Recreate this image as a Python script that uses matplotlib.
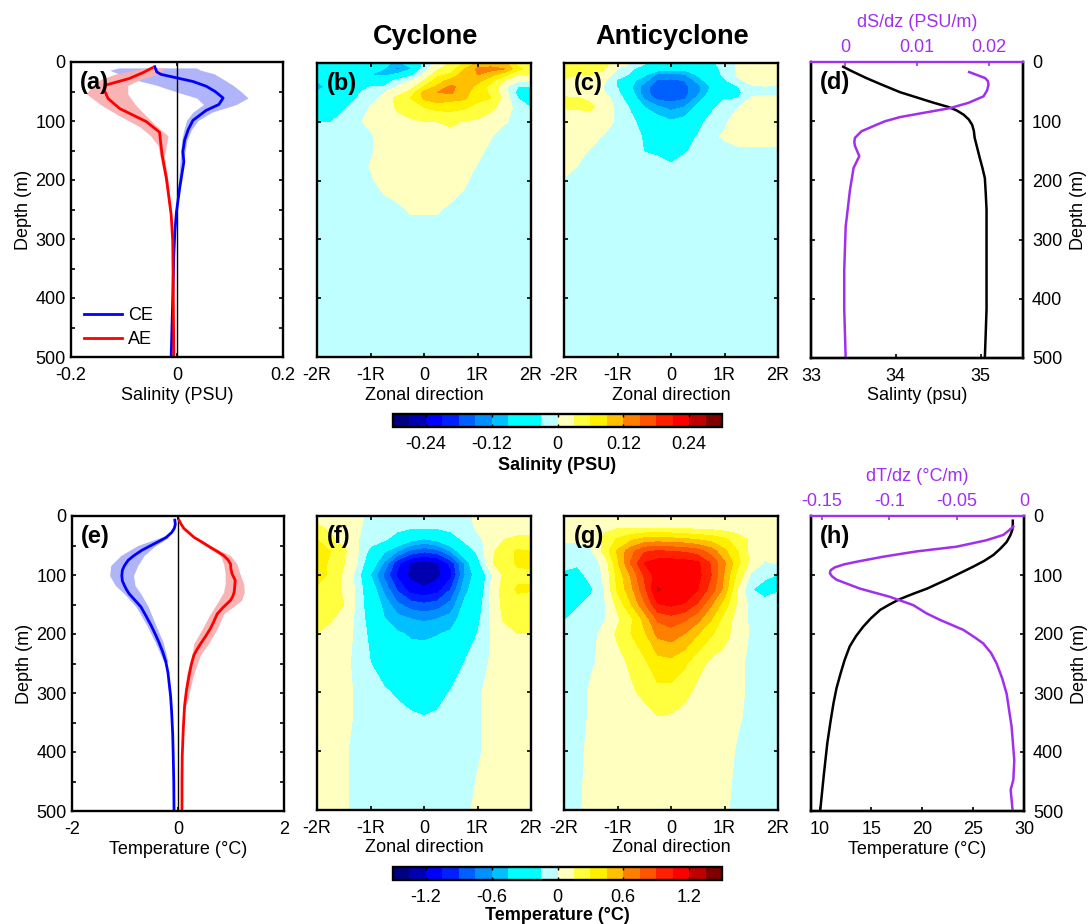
import numpy as np
import matplotlib
matplotlib.use('Agg')
import matplotlib.pyplot as plt
from matplotlib.colors import ListedColormap, BoundaryNorm

plt.rcParams['font.family'] = ['Liberation Sans', 'DejaVu Sans']
plt.rcParams['font.size'] = 13

# ---------- profile data ----------
a_ce_d = [8,17,21,27,33,41,50,61,72,82,99,115,132,152,169,214,254,287,327,400,500]
a_ce_v = [-.042,-.038,-.03,0,.03,.055,.072,.087,.079,.055,.03,.021,.0145,.011,.013,.005,-.001,-.004,-.006,-.008,-.011]
a_ae_d = [10,18,28,39,48,62,79,90,101,119,135,158,197,259,304,400,500]
a_ae_v = [-.047,-.064,-.09,-.134,-.137,-.13,-.108,-.083,-.058,-.033,-.031,-.028,-.02,-.011,-.008,-.007,-.006]
a_ce_sd = [10,14,20,28,39,51,61,72,85,99,115,132,152,200,250]
a_ce_lo = [-.11,-.127,-.11,-.09,-.04,0,.037,.05,.03,.018,.013,.009,.007,.003,-.002]
a_ce_hi = [.036,.045,.07,.085,.105,.122,.134,.112,.066,.04,.027,.019,.015,.007,0]
a_ae_sd = [10,20,30,40,54,73,90,110,125,141,160,200,260]
a_ae_lo = [-.06,-.115,-.145,-.16,-.171,-.143,-.111,-.07,-.05,-.036,-.032,-.023,-.013]
a_ae_hi = [-.023,-.033,-.07,-.093,-.093,-.078,-.06,-.037,-.017,-.02,-.024,-.017,-.01]

e_ce_d = [7,14,21,28,36,43,50,58,67,75,84,92,101,110,118,125,132,143,154,170,185,200,214,230,247,265,281,305,332,370,406,450,500]
e_ce_v = [-.06,-.05,-.07,-.12,-.22,-.36,-.51,-.68,-.83,-.94,-1.01,-1.05,-1.06,-1.05,-1.01,-.97,-.92,-.81,-.7,-.6,-.51,-.43,-.36,-.29,-.23,-.19,-.17,-.14,-.12,-.1,-.09,-.08,-.075]
e_ae_d = [7,14,21,28,36,44,53,60,67,74,81,90,98,109,120,129,137,143,155,166,180,191,204,216,226,236,252,270,295,321,360,406,450,500]
e_ae_v = [.02,.06,.11,.2,.3,.45,.61,.74,.86,.94,.99,1.0,1.02,1.08,1.07,1.06,1.03,.99,.85,.74,.67,.61,.52,.43,.36,.3,.25,.21,.16,.125,.1,.08,.075,.075]
e_ce_sd = [36,50,67,84,101,118,132,154,185,214,247]
e_ce_lo = [-.32,-.76,-1.08,-1.27,-1.29,-1.18,-1.01,-.79,-.59,-.43,-.27]
e_ce_hi = [-.17,-.42,-.64,-.76,-.84,-.81,-.7,-.56,-.42,-.28,-.19]
e_ae_sd = [36,53,67,81,98,115,129,143,166,191,216,236,270,320]
e_ae_lo = [.27,.55,.8,.86,.89,.89,.86,.77,.61,.46,.3,.26,.16,.11]
e_ae_hi = [.33,.66,.99,1.11,1.17,1.24,1.25,1.2,.86,.74,.58,.42,.29,.16]

d_s_d = [8,14,27,38,51,60,69,76,82,89,97,106,116,128,145,162,178,196,220,249,306,360,418,460,500]
d_s_v = [33.38,33.46,33.65,33.83,34.05,34.25,34.45,34.62,34.72,34.8,34.86,34.9,34.92,34.93,34.96,34.99,35.02,35.05,35.06,35.07,35.07,35.07,35.07,35.06,35.05]
d_g_d = [17,27,32,38,48,58,69,78,86,93,100,106,117,128,135,142,159,179,216,278,351,418,500]
d_g_v = [.0173,.0195,.0199,.02,.0198,.0193,.0172,.0146,.0109,.0077,.0056,.0044,.0023,.0014,.0013,.0014,.002,.0012,.0007,.0001,-.0001,-.0001,.0001]

h_t_d = [8,15,24,33,44,55,66,76,86,97,108,115,123,132,141,150,159,173,188,204,221,244,267,292,318,350,385,440,500]
h_t_v = [28.9,28.9,28.85,28.65,28.3,27.7,27,26.1,25,23.7,22.4,21.5,20.5,19.1,17.8,16.8,15.9,15,14.2,13.5,12.9,12.4,12,11.6,11.3,11,10.7,10.35,10]
h_g_d = [18,25,32,41,52,60,69,77,82,87,92,97,102,108,123,137,151,165,176,193,205,216,232,250,275,301,357,414,447,464,500]
h_g_v = [-.0079,-.0115,-.0153,-.0277,-.05,-.0797,-.1045,-.123,-.1335,-.1403,-.1435,-.144,-.1425,-.1391,-.1218,-.0995,-.0822,-.0723,-.0624,-.045,-.037,-.0302,-.0245,-.0203,-.0162,-.0129,-.0092,-.0072,-.0079,-.0099,-.0084]

# ---------- section data ----------
zonal = [-2,-1.75,-1.5,-1.25,-1,-.75,-.5,-.25,0,.25,.5,.75,1,1.25,1.5,1.75,2]

# salinity anomaly, 0.01 PSU; one row per column of zonal position
S_depth = [0,10,20,30,40,50,60,75,100,125,150,175,200,240,270,500]
S_cyc = np.array([
 [-6,-7,-8,-9,-10,-9,-7,-5,-3,-1,-1,-1,-1,-1,-1,-1],
 [-6,-7,-7,-8,-8,-7,-6,-5,-3.2,-1,-1,-1,-1,-1,-1,-1],
 [-6,-6,-6,-6,-6,-5.5,-5,-3.5,-1.5,-1,-1,-1,-1,-1,-1,-1],
 [-6,-6,-6,-6,-4,-3.5,-3,-1.5,-.3,-.6,-.6,-.6,-1,-1,-1,-1],
 [-7,-8,-9,-6,-3,-1.5,-.8,.2,.5,-.3,-.3,.1,-.3,-1,-1,-1],
 [-8,-9,-10,-5,-3,0,.5,1,1,1,1,1,.7,-.5,-1,-1],
 [-10,-13,-8,-2,.2,1,4,3.5,2,1.5,1.5,1.5,1.2,-.1,-.5,-1],
 [-7,-9.5,-4,0,1.5,4,6,5.5,2.2,2,2,2,1.5,.4,-.3,-1],
 [-2,-1,.5,3,6,10,9.5,6,3,2,2,2,1.5,.4,-.3,-1],
 [1,2.5,5,7.5,9.5,12,11,7,3,2,2,2,1.5,.4,-.3,-1],
 [3.5,4.5,6.5,10,12.5,12.5,10,7,3.5,2,2,1.5,1.2,-.1,-.5,-1],
 [6,9,10.5,11,11,10,9.5,6.5,2.8,2,1.5,.8,.3,-.5,-1,-1],
 [9,12.5,12,10,8,7.5,7,5,2.5,1.5,.5,-.1,-.6,-1,-1,-1],
 [10,13,10,7,5,5.5,6,4,1,.1,-.5,-.7,-1,-1,-1,-1],
 [10,12,7,3,1,1.5,2,1.5,.2,-1,-1,-1,-1,-1,-1,-1],
 [5,7,3,.5,-3,-4,-3,-1,-.5,-1,-1,-1,-1,-1,-1,-1],
 [4,4,3,0,-3,-5,-5,-3.2,-1,-1,-1,-1,-1,-1,-1,-1]]).T
S_anti = np.array([
 [5,5,4,2.5,1.5,1.5,3.5,3.2,1.5,1,.7,.5,-.1,-1,-1,-1],
 [5,5,3,2,1.5,1.5,3.2,3.3,1.5,1,.5,0,-.5,-1,-1,-1],
 [5,4,3,2,1.5,2,2.5,3.5,1.5,.7,-.2,-.7,-1,-1,-1,-1],
 [4,3.2,2,.5,-.2,.1,1,1.5,1,-.2,-.6,-1,-1,-1,-1,-1],
 [1.5,0,-1.5,-3.5,-3.2,-2.2,-1,-.7,-.4,-1,-1,-1,-1,-1,-1,-1],
 [0,-2.5,-3.5,-8,-8.5,-7.5,-6,-3.5,-2.2,-1.5,-1,-1,-1,-1,-1,-1],
 [-2.5,-5,-8.5,-11,-13.5,-14,-12.5,-9,-4.5,-3.4,-3.1,-1.5,-1,-1,-1,-1],
 [-4,-7,-13,-15.5,-17,-17,-16,-11.5,-7,-4.5,-3.6,-1.8,-1,-1,-1,-1],
 [-4,-8,-13,-15.8,-17.5,-17.5,-16.5,-13,-8.5,-5,-4,-2.8,-1.5,-1,-1,-1],
 [-4,-8,-12.5,-15,-16,-16,-15.5,-12,-7.5,-4.5,-3.3,-1.8,-1,-1,-1,-1],
 [-4,-6,-8.5,-11,-13,-13,-11,-8,-4.5,-2.8,-2.2,-1.2,-1,-1,-1,-1],
 [-3.5,-4.5,-5,-6.5,-8.5,-8,-6,-4,-1.5,-.3,-.8,-1,-1,-1,-1,-1],
 [-2,-2,-2.3,-3.5,-4.5,-4,-3.2,-1.5,-.3,.2,-.5,-1,-1,-1,-1,-1],
 [.2,.5,.4,-.6,-3.1,-3.8,-3.2,-.1,1,1,-.5,-1,-1,-1,-1,-1],
 [1,1.5,1.5,.8,-.3,-.8,.3,1.2,1.5,1.2,-.5,-1,-1,-1,-1,-1],
 [1.5,1.5,1.5,1.2,-.1,-.5,.6,1.5,1.5,1.2,-.5,-1,-1,-1,-1,-1],
 [1.5,1.5,1.5,1.2,-.2,-.5,.5,1.5,1.5,1,-.5,-1,-1,-1,-1,-1]]).T

# temperature anomaly, 0.01 deg C; one row per depth
T_depth = [0,20,40,60,80,100,125,150,175,200,250,300,340,400,500]
T_cyc = np.array([
 [8,8,6,3,-3,-5,-5,-5,-5,-5,-5,-4,3,5,6,7,8],
 [18,12,8,2,-4,-8,-10,-13,-14,-13,-10,-6,2,4,6,8,8],
 [30,18,10,1,-8,-12,-25,-40,-47,-40,-25,-12,-3,5,15,18,18],
 [34,30,18,2,-20,-42,-60,-80,-88,-82,-60,-30,-12,12,22,32,30],
 [36,28,16,0,-30,-62,-100,-122,-128,-122,-100,-60,-22,13,24,32,32],
 [35,28,12,-5,-45,-78,-108,-124,-130,-124,-110,-62,-35,-2,18,26,28],
 [28,24,12,-3,-32,-64,-92,-113,-118,-112,-90,-52,-32,2,22,32,31],
 [22,18,15,-3,-28,-50,-72,-84,-88,-84,-70,-42,-25,3,20,24,24],
 [20,17,8,-3,-24,-44,-54,-60,-63,-60,-54,-36,-20,3,17,22,22],
 [15,8,4,-2,-20,-36,-43,-47,-48,-46,-42,-28,-15,0,8,15,15],
 [5,4,2,-2,-15,-26,-33,-36,-36,-34,-27,-15,-5,1,2,3,3],
 [4,3,2,-1,-6,-12,-18,-22,-24,-21,-14,-8,-1,2,3,3,3],
 [4,3,2,-1,-4,-6,-9,-13,-15,-13,-8,-4,-1,2,3,3,3],
 [4,3,1,-2,-3,-4,-5,-6,-7,-6,-5,-3,-1,2,3,3,3],
 [3,3,1,-2,-3,-4,-4,-4,-4,-4,-3,-2,2,3,3,3,3]])
T_anti = np.array([
 [4,4,4,5,6,6,5,3,3,-2,-2,-2,-2,-1,4,4,4],
 [3,3,3,12,14,14,14,14,14,12,11,10,8,7,5,4,4],
 [1,2,4,18,32,42,50,52,50,48,44,40,33,22,12,5,4],
 [-3,-5,-2,20,47,70,88,92,90,88,82,68,48,30,10,3,2],
 [-10,-12,-6,3,42,76,105,112,113,112,108,88,62,34,10,-1,1],
 [-18,-22,-8,2,35,62,92,113,116,116,110,90,58,25,-3,-10,-16],
 [-22,-26,-18,0,32,55,85,121,117,114,105,84,54,14,-14,-24,-16],
 [-18,-17,-10,-2,20,44,72,104,108,104,88,62,38,12,-5,-8,-10],
 [-16,-10,-5,-1,12,27,50,78,84,78,65,46,24,8,-3,-4,-6],
 [-6,-5,-3,3,18,30,42,64,68,60,46,32,20,8,-2,-3,-3],
 [-3,-3,-1,2,9,18,27,38,40,33,20,12,8,2,-2,-3,-3],
 [-3,-3,1,2,6,12,19,26,25,19,11,8,5,1,-1,-3,-3],
 [-3,-3,1,2,4,6,9,15,14,10,7,6,4,1,-2,-3,-3],
 [-3,-2,2,3,4,5,5,5,5,5,5,4,3,-1,-2,-3,-3],
 [-3,-1,2,3,4,4,4,4,4,4,4,3,1,-2,-3,-3,-3]])

band_colors = ['#000080','#0000b0','#0000ff','#0020ff','#0060ff','#0090ff','#00c0ff','#00ffff','#00ffff','#c0ffff',
               '#ffffc0','#ffff40','#fff000','#ffc000','#ff8000','#ff5500','#ff2000','#ff0000','#c00000','#800000']
S_levels = np.linspace(-30, 30, 21)
T_levels = np.linspace(-150, 150, 21)
cmap = ListedColormap(band_colors)

W, H = 1088, 924
PURPLE = '#a030f0'
fig = plt.figure(figsize=(W/100, H/100), dpi=100)

def make_ax(x0, y0, x1, y1):
    ax = fig.add_axes([x0/W, 1-y1/H, (x1-x0)/W, (y1-y0)/H])
    for s in ax.spines.values():
        s.set_linewidth(1.7)
    ax.set_ylim(500, 0)
    return ax

def style(ax, top=True, right=True, yticks=range(0, 501, 100)):
    ax.set_yticks(list(yticks))
    ax.tick_params(direction='in', length=3, width=1.2, top=top, right=right)
    ax.tick_params(axis='x', pad=7)
    ax.tick_params(axis='y', pad=4)

def panel_label(ax, s, px=0.045):
    ax.text(px, 0.93, s, transform=ax.transAxes, fontsize=17, fontweight='bold', va='center', ha='left')

def profile(ax, xlim, xticks, xticklabels, xlabel, ce, ae):
    ax.set_xlim(*xlim)
    style(ax, yticks=range(0, 501, 50))
    ax.set_yticks(range(0, 501, 100))
    ax.set_yticks(range(50, 500, 100), minor=True)
    ax.tick_params(which='minor', direction='in', length=3, width=1.2, right=True, left=True)
    ax.set_xticks(xticks, xticklabels)
    ax.fill_betweenx(ce[2], ce[3], ce[4], color='#b0b4f8', lw=0)
    ax.fill_betweenx(ae[2], ae[3], ae[4], color='#f8b0b0', alpha=.95, lw=0)
    ax.axvline(0, color='k', lw=1)
    l1, = ax.plot(ce[1], ce[0], color='#0000ff', lw=2, label='CE')
    l2, = ax.plot(ae[1], ae[0], color='#ff0000', lw=2, label='AE')
    ax.set_xlabel(xlabel, labelpad=2)
    ax.set_ylabel('Depth (m)', labelpad=2.5)
    return l1, l2

def section(ax, depth, data, levels):
    ax.contourf(zonal, depth, data, levels=levels, cmap=cmap,
                norm=BoundaryNorm(levels, cmap.N))
    ax.set_xlim(-2, 2)
    ax.set_ylim(500, 0)
    style(ax)
    ax.set_yticklabels([])
    ax.set_xticks([-2, -1, 0, 1, 2], ['-2R', '-1R', '0', '1R', '2R'])
    ax.set_xlabel('Zonal direction', labelpad=2)

def reference(ax, xlim, xticks, xlabels, xlabel, d1, v1, d2, v2, toplim, topt, toplab, toplabel):
    ax.set_xlim(*xlim)
    style(ax, top=False)
    ax.yaxis.tick_right()
    ax.yaxis.set_label_position('right')
    ax.tick_params(axis='y', left=True, right=True, labelleft=False, labelright=True, direction='in', pad=6.5)
    ax.set_ylabel('Depth (m)', labelpad=5.5)
    ax.set_xticks(xticks, xlabels)
    ax.set_xlabel(xlabel, labelpad=2)
    ax.plot(v1, d1, color='k', lw=1.8)
    t = ax.twiny()
    t.set_xlim(*toplim)
    t.set_ylim(500, 0)
    t.plot(v2, d2, color=PURPLE, lw=1.8)
    t.set_xticks(topt, toplab)
    t.tick_params(axis='x', direction='in', length=3, width=1.2, colors=PURPLE, pad=4)
    t.set_xlabel(toplabel, color=PURPLE, labelpad=9)
    for k, s in t.spines.items():
        s.set_linewidth(1.7)
    t.spines['top'].set_color(PURPLE)
    ax.spines['top'].set_visible(False)

def colorbar(x0, y0, x1, y1, levels, ticks, labels, label, labelpad=3):
    cax = fig.add_axes([x0/W, 1-y1/H, (x1-x0)/W, (y1-y0)/H])
    sm = matplotlib.cm.ScalarMappable(norm=BoundaryNorm(levels, cmap.N), cmap=cmap)
    cb = fig.colorbar(sm, cax=cax, orientation='horizontal', spacing='proportional')
    cb.set_ticks(ticks, labels=labels)
    cb.ax.minorticks_off()
    cb.ax.tick_params(direction='in', length=2.5, width=1, top=True, bottom=True, pad=6.5)
    cb.outline.set_linewidth(1.7)
    cb.set_label(label, fontweight='bold', labelpad=labelpad)

# ---- top row
axa = make_ax(71, 62, 283, 357)
l1, l2 = profile(axa, (-.2, .2), [-.2, 0, .2], ['-0.2', '0', '0.2'], 'Salinity (PSU)',
                 (a_ce_d, a_ce_v, a_ce_sd, a_ce_lo, a_ce_hi), (a_ae_d, a_ae_v, a_ae_sd, a_ae_lo, a_ae_hi))
axa.legend(handles=[l1, l2], loc='lower left', bbox_to_anchor=(0.06, 0.03), frameon=False,
           handlelength=2.1, handletextpad=.35, labelspacing=.4, fontsize=13, borderpad=0, borderaxespad=0)
panel_label(axa, '(a)', .04)

axb = make_ax(317, 63, 531, 357)
section(axb, S_depth, S_cyc, S_levels)
panel_label(axb, '(b)')
axc = make_ax(564, 63, 778, 357)
section(axc, S_depth, S_anti, S_levels)
panel_label(axc, '(c)')

axd = make_ax(811, 62, 1023, 358)
reference(axd, (33, 35.5), [33, 34, 35], ['33', '34', '35'], 'Salinty (psu)',
          d_s_d, d_s_v, d_g_d, d_g_v, (-.00473, .0248), [0, .01, .02], ['0', '0.01', '0.02'], 'dS/dz (PSU/m)')
panel_label(axd, '(d)', .04)

colorbar(393, 414, 722, 427, S_levels, [-24, -12, 0, 12, 24], ['-0.24', '-0.12', '0', '0.12', '0.24'], 'Salinity (PSU)')

# ---- bottom row
axe = make_ax(72, 516, 284, 811)
profile(axe, (-2, 2), [-2, 0, 2], ['-2', '0', '2'], 'Temperature (°C)',
        (e_ce_d, e_ce_v, e_ce_sd, e_ce_lo, e_ce_hi), (e_ae_d, e_ae_v, e_ae_sd, e_ae_lo, e_ae_hi))
panel_label(axe, '(e)', .04)

axf = make_ax(317, 516, 531, 810)
section(axf, T_depth, T_cyc, T_levels)
panel_label(axf, '(f)')
axg = make_ax(564, 516, 778, 810)
section(axg, T_depth, T_anti, T_levels)
panel_label(axg, '(g)')

axh = make_ax(811, 516, 1024, 811)
reference(axh, (9.1, 30), [10, 15, 20, 25, 30], ['10', '15', '20', '25', '30'], 'Temperature (°C)',
          h_t_d, h_t_v, h_g_d, h_g_v, (-.158, 0), [-.15, -.1, -.05, 0], ['-0.15', '-0.1', '-0.05', '0'], 'dT/dz (°C/m)')
panel_label(axh, '(h)', .04)

colorbar(393, 867, 722, 880, T_levels, [-120, -60, 0, 60, 120], ['-1.2', '-0.6', '0', '0.6', '1.2'], 'Temperature (°C)', labelpad=1)

fig.text(425/W, 1-37/H, 'Cyclone', fontsize=19.5, fontweight='bold', ha='center', va='center')
fig.text(672/W, 1-37/H, 'Anticyclone', fontsize=19.5, fontweight='bold', ha='center', va='center')

fig.savefig('out.png', dpi=100)
